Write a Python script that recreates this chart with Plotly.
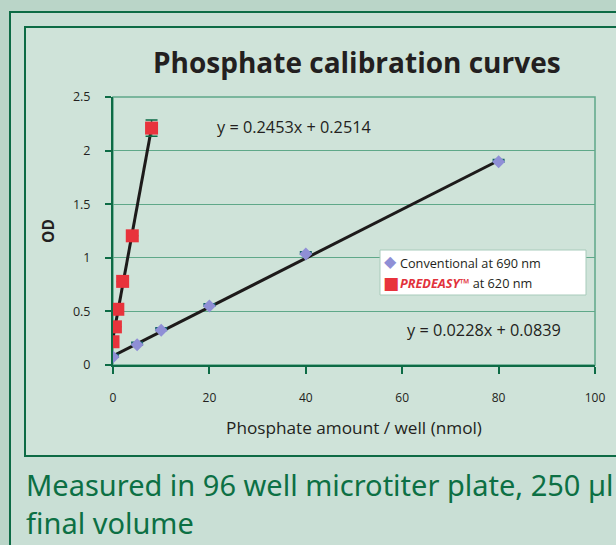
import plotly.graph_objects as go

# Data
conv_x = [0, 5, 10, 20, 40, 80]
conv_y = [0.075, 0.19, 0.325, 0.55, 1.035, 1.895]
conv_err = [0.02, 0.02, 0.02, 0.02, 0.02, 0.02]
pred_x = [0, 0.5, 1, 2, 4, 8]
pred_y = [0.217, 0.356, 0.52, 0.78, 1.205, 2.21]
pred_err = [0, 0, 0, 0, 0, 0.075]
fit_conv = (0.0228, 0.0839)
fit_pred = (0.2453, 0.2514)
x_ticks = [0, 20, 40, 60, 80, 100]
y_ticks = [0, 0.5, 1, 1.5, 2, 2.5]
y_tick_labels = ["0", "0.5", "1", "1.5", "2", "2.5"]
series_names = ["Conventional at 690 nm", "PREDEASY™ at 620 nm"]

FONT = "Open Sans"
DARKGREEN = "#0d6b45"
GRID = "#5fa889"
BLUE = "#8f8fd6"
RED = "#e8333c"

fig = go.Figure()

cx = [0, 80]
fig.add_trace(go.Scatter(x=cx, y=[fit_conv[0] * v + fit_conv[1] for v in cx], mode="lines",
                         line=dict(color="#1d1a1a", width=3), showlegend=False, hoverinfo="skip"))
px_ = [0, 8]
fig.add_trace(go.Scatter(x=px_, y=[fit_pred[0] * v + fit_pred[1] for v in px_], mode="lines",
                         line=dict(color="#1d1a1a", width=3), showlegend=False, hoverinfo="skip"))

fig.add_trace(go.Scatter(x=conv_x, y=conv_y, mode="markers", name=series_names[0], showlegend=False,
                         marker=dict(symbol="diamond", size=10, color=BLUE),
                         error_y=dict(type="data", array=conv_err, arrayminus=[0] * len(conv_err),
                                      color="#16636b", thickness=2, width=6)))
fig.add_trace(go.Scatter(x=pred_x, y=pred_y, mode="markers", name=series_names[1], showlegend=False,
                         marker=dict(symbol="square", size=13, color=RED),
                         error_y=dict(type="data", array=pred_err, color=DARKGREEN, thickness=1.5, width=6)))

W, H = 616, 545
L, R, T, B = 113, 21, 97, 180
PW, PH = W - L - R, H - T - B


def px2x(p):
    return (p - L) / PW


def px2y(p):
    return (H - B - p) / PH


def rect_px(x0, y0, x1, y1, fill, line_color, lw, layer="below"):
    return dict(type="rect", xref="paper", yref="paper",
                x0=px2x(x0), x1=px2x(x1), y0=px2y(y1), y1=px2y(y0),
                fillcolor=fill, line=dict(color=line_color, width=lw), layer=layer)


shapes = [
    rect_px(10, 12, 660, 600, "#c9dfd5", DARKGREEN, 2),
    rect_px(25, 27, 660, 456, "#cfe3d9", DARKGREEN, 2),
    dict(type="rect", xref="paper", yref="paper", x0=0, x1=1, y0=0, y1=1,
         line=dict(color=GRID, width=1.5), fillcolor="rgba(0,0,0,0)", layer="below"),
    # legend box
    rect_px(380, 250, 586, 295, "white", "#a8cbbb", 1, layer="above"),
]

pred_label = series_names[1].split("™")
annotations = [
    dict(text="<b>Phosphate calibration curves</b>", x=px2x(357), y=px2y(62), yanchor="middle",
         xref="paper", yref="paper", showarrow=False, font=dict(family=FONT, size=28, color="#231f20")),
    dict(text="y = 0.2453x + 0.2514", x=37.6, y=2.22, xref="x", yref="y", showarrow=False,
         font=dict(family=FONT, size=16.3, color="#231f20")),
    dict(text="y = 0.0228x + 0.0839", x=77.0, y=0.325, xref="x", yref="y", showarrow=False,
         font=dict(family=FONT, size=16.3, color="#231f20")),
    dict(text="Measured in 96 well microtiter plate, 250 µl<br>final volume", x=px2x(24),
         y=px2y(463), xref="paper", yref="paper", xanchor="left", yanchor="top",
         align="left", showarrow=False, font=dict(family="Noto Sans", size=29, color="#0c7044")),
    # legend entries
    dict(text="<span style='color:%s;font-size:16px'>◆</span>" % BLUE,
         x=px2x(382), y=px2y(261), xref="paper", yref="paper", xanchor="left", yanchor="middle",
         showarrow=False, font=dict(family="DejaVu Sans", size=16, color=BLUE)),
    dict(text=series_names[0],
         x=px2x(398), y=px2y(263), xref="paper", yref="paper", xanchor="left", yanchor="middle",
         showarrow=False, font=dict(family=FONT, size=12.7, color="#231f20")),
    dict(text="<span style='color:%s;font-size:17px'>■</span>" % RED,
         x=px2x(381), y=px2y(283), xref="paper", yref="paper", xanchor="left", yanchor="middle",
         showarrow=False, font=dict(family="DejaVu Sans", size=17, color=RED)),
    dict(text="<b><i><span style='color:#e2323c'>%s™</span></i></b>%s" % (pred_label[0], pred_label[1]),
         x=px2x(398), y=px2y(283), xref="paper", yref="paper", xanchor="left", yanchor="middle",
         showarrow=False, font=dict(family=FONT, size=12.7, color="#231f20")),
]

fig.update_layout(
    width=W, height=H,
    margin=dict(l=L, r=R, t=T, b=B),
    paper_bgcolor="#bad5c8",
    plot_bgcolor="#c5dcd0",
    font=dict(family=FONT, size=12, color="#231f20"),
    shapes=shapes,
    annotations=annotations,
    showlegend=False,
    xaxis=dict(range=[0, 100], tickvals=x_ticks, showgrid=False, zeroline=False,
               showline=True, linecolor=DARKGREEN, linewidth=2,
               ticks="outside", ticklen=7, tickcolor=DARKGREEN, tickwidth=1.5,
               ticklabelstandoff=14, tickfont=dict(size=12),
               title=dict(text="Phosphate amount / well (nmol)", font=dict(size=17.2), standoff=17)),
    yaxis=dict(range=[0, 2.5], tickvals=y_ticks, ticktext=y_tick_labels, showgrid=True, gridcolor=GRID,
               gridwidth=1, zeroline=False, showline=True, linecolor=DARKGREEN, linewidth=2,
               ticks="outside", ticklen=6, tickcolor=DARKGREEN, tickwidth=1.5,
               ticklabelstandoff=12, tickfont=dict(size=12.5),
               title=dict(text="<b>OD</b>", font=dict(size=15.5), standoff=14)),
)

fig.write_html("out.html", config={"displayModeBar": False},
               post_script="document.body.style.margin='0';document.body.style.overflow='hidden';")
